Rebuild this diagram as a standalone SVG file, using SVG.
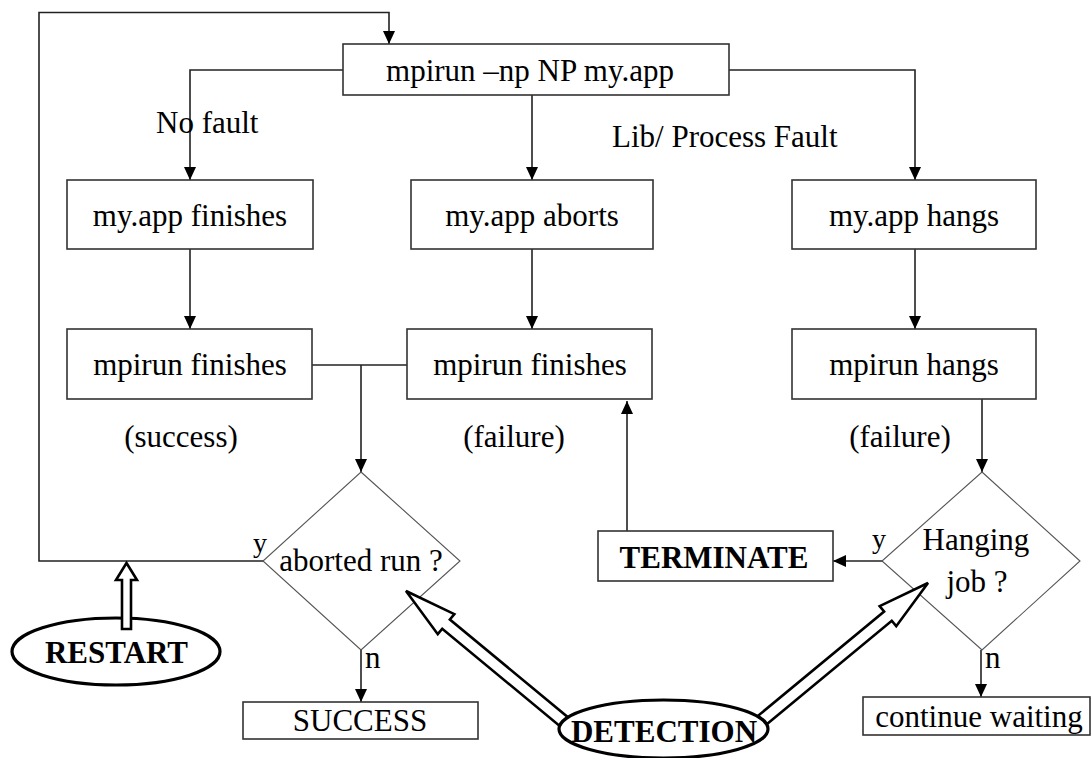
<svg xmlns="http://www.w3.org/2000/svg" width="1091" height="758" viewBox="0 0 1091 758">
  <style>
    text { font-family: "Liberation Serif", "Times New Roman", serif; font-size: 31px; fill: #000; }
    .mid { text-anchor: middle; }
    .bold { font-weight: bold; }
    .box { fill: #fff; stroke: #333; stroke-width: 1.6; }
    .dia { fill: #fff; stroke: #555; stroke-width: 1.1; }
    .oval { fill: #fff; stroke: #000; stroke-width: 3.2; }
    .wire { fill: none; stroke: #222; stroke-width: 1.6; }
    .hollow { fill: #fff; stroke: #000; stroke-width: 2.6; stroke-linejoin: miter; }
  </style>
  <defs>
    <marker id="tip" markerUnits="userSpaceOnUse" markerWidth="13" markerHeight="12" viewBox="0 0 13 12" refX="13" refY="6" orient="auto">
      <path d="M0,0 L13,6 L0,12 z" fill="#000"/>
    </marker>
  </defs>

  <rect width="1091" height="758" fill="#fff"/>

  <!-- connectors -->
  <g id="connectors">
    <path class="wire" d="M263,561 H39 V12.5 H389 V44" marker-end="url(#tip)"/>
    <path class="wire" d="M343,70 H190 V180" marker-end="url(#tip)"/>
    <path class="wire" d="M532,95 V180" marker-end="url(#tip)"/>
    <path class="wire" d="M729,70 H915 V180" marker-end="url(#tip)"/>
    <path class="wire" d="M190,249 V329" marker-end="url(#tip)"/>
    <path class="wire" d="M532,249 V329" marker-end="url(#tip)"/>
    <path class="wire" d="M915,249 V329" marker-end="url(#tip)"/>
    <path class="wire" d="M312,365 H407"/>
    <path class="wire" d="M361,365 V472" marker-end="url(#tip)"/>
    <path class="wire" d="M982,399 V472" marker-end="url(#tip)"/>
    <path class="wire" d="M882,561 H833" marker-end="url(#tip)"/>
    <path class="wire" d="M627,531 V401" marker-end="url(#tip)"/>
    <path class="wire" d="M361,650 V702" marker-end="url(#tip)"/>
    <path class="wire" d="M981,650 V697" marker-end="url(#tip)"/>
  </g>

  <!-- edge labels -->
  <g id="labels">
    <text x="156" y="133">No fault</text>
    <text x="612" y="147">Lib/ Process Fault</text>
    <text class="mid" x="181" y="447">(success)</text>
    <text class="mid" x="514" y="447">(failure)</text>
    <text class="mid" x="900" y="447">(failure)</text>
    <text class="mid" x="260" y="552" style="font-size:28px">y</text>
    <text class="mid" x="879" y="548" style="font-size:28px">y</text>
    <text x="365" y="668">n</text>
    <text x="985" y="668">n</text>
  </g>

  <g id="start">
    <rect class="box" x="343" y="44" width="386" height="51"/>
    <text class="mid" x="530" y="81">mpirun –np NP my.app</text>
  </g>

  <g id="app-finishes">
    <rect class="box" x="67" y="180" width="246" height="69"/>
    <text class="mid" x="190" y="226">my.app finishes</text>
  </g>
  <g id="app-aborts">
    <rect class="box" x="411" y="180" width="242" height="69"/>
    <text class="mid" x="532" y="226">my.app aborts</text>
  </g>
  <g id="app-hangs">
    <rect class="box" x="792" y="180" width="244" height="69"/>
    <text class="mid" x="914" y="226">my.app hangs</text>
  </g>

  <g id="mpirun-finishes-ok">
    <rect class="box" x="67" y="329" width="245" height="70"/>
    <text class="mid" x="190" y="375">mpirun finishes</text>
  </g>
  <g id="mpirun-finishes-fail">
    <rect class="box" x="407" y="329" width="245" height="70"/>
    <text class="mid" x="530" y="375">mpirun finishes</text>
  </g>
  <g id="mpirun-hangs">
    <rect class="box" x="792" y="329" width="244" height="70"/>
    <text class="mid" x="914" y="375">mpirun hangs</text>
  </g>

  <g id="aborted-check">
    <polygon class="dia" points="361,472 460,561 361,650 263,561"/>
    <text class="mid" x="361" y="571">aborted run ?</text>
  </g>
  <g id="hang-check">
    <polygon class="dia" points="982,472 1080,561 982,650 882,561"/>
    <text class="mid" x="976" y="550">Hanging</text>
    <text class="mid" x="977" y="592">job ?</text>
  </g>

  <g id="terminate">
    <rect class="box" x="598" y="531" width="235" height="50"/>
    <text class="mid bold" x="714" y="568">TERMINATE</text>
  </g>

  <g id="success">
    <rect class="box" x="243" y="702" width="235" height="37"/>
    <text class="mid" x="360" y="731">SUCCESS</text>
  </g>
  <g id="continue-waiting">
    <rect class="box" x="863" y="697" width="227" height="38"/>
    <text class="mid" x="979" y="727">continue waiting</text>
  </g>

  <!-- hollow block arrows from the detection oval -->
  <g id="detection-arrows">
    <polygon class="hollow" transform="translate(406,591) rotate(39.6)" points="0,0 52,-13 52,-6 215,-6 215,6 52,6 52,13"/>
    <polygon class="hollow" transform="translate(928,583) rotate(140.4)" points="0,0 52,-13 52,-6 220,-6 220,6 52,6 52,13"/>
  </g>

  <g id="detection">
    <ellipse class="oval" cx="663.5" cy="729" rx="104.5" ry="29"/>
    <text class="mid bold" x="664" y="742">DETECTION</text>
  </g>

  <g id="restart">
    <ellipse class="oval" cx="116" cy="651.5" rx="104" ry="33.5"/>
    <text class="mid bold" x="116.5" y="663">RESTART</text>
    <polygon class="hollow" transform="translate(126.5,563) rotate(90)" points="0,0 17,-10.5 17,-4.5 66,-4.5 66,4.5 17,4.5 17,10.5"/>
  </g>
</svg>
